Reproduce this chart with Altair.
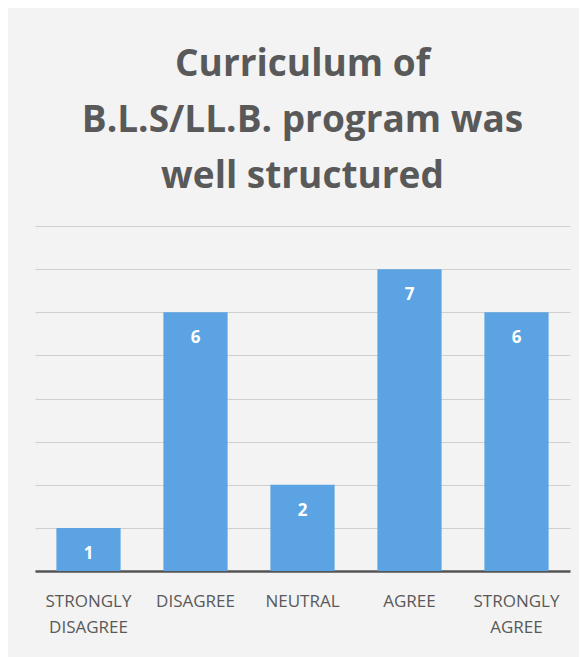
import altair as alt
import pandas as pd

categories = ["STRONGLY DISAGREE", "DISAGREE", "NEUTRAL", "AGREE", "STRONGLY AGREE"]
values = [1, 6, 2, 7, 6]
title_lines = ["Curriculum of", "B.L.S/LL.B. program was", "well structured"]

df = pd.DataFrame({"category": categories, "value": values})

x_enc = alt.X(
    "category:N",
    sort=categories,
    scale=alt.Scale(paddingInner=0.4, paddingOuter=0.2),
    axis=alt.Axis(
        title=None,
        labelAngle=0,
        labelExpr="split(datum.label, ' ')",
        labelFont="Open Sans",
        labelFontSize=17,
        labelColor="#595959",
        labelPadding=22,
        labelLineHeight=26,
        ticks=False,
        domainColor="#555555",
        domainWidth=2.5,
        grid=False,
    ),
)
y_enc = alt.Y(
    "value:Q",
    scale=alt.Scale(domain=[0, 8]),
    axis=alt.Axis(
        title=None,
        labels=False,
        ticks=False,
        domain=False,
        grid=True,
        gridColor="#cfcfcf",
        gridWidth=1.2,
        values=[0, 1, 2, 3, 4, 5, 6, 7, 8],
    ),
)

base = alt.Chart(df)
bars = base.mark_bar(color="#5ba3e3").encode(x=x_enc, y=y_enc)
labels = base.mark_text(
    color="white", font="Open Sans", fontWeight="bold", fontSize=17, baseline="middle", dy=26
).encode(x=alt.X("category:N", sort=categories), y="value:Q", text="value:Q")

chart = (
    alt.layer(bars, labels)
    .properties(
        width=535,
        height=345,
        padding={"left": 27, "right": 9, "top": 38, "bottom": 30},
        background="#f3f3f3",
        title=alt.TitleParams(
            text=title_lines,
            font="Open Sans",
            fontSize=37,
            fontWeight="bold",
            color="#595959",
            lineHeight=56,
            anchor="middle",
            offset=30,
        ),
    )
    .configure_view(stroke=None)
)

chart.save("out.html", embed_options={"renderer": "svg", "actions": False})
